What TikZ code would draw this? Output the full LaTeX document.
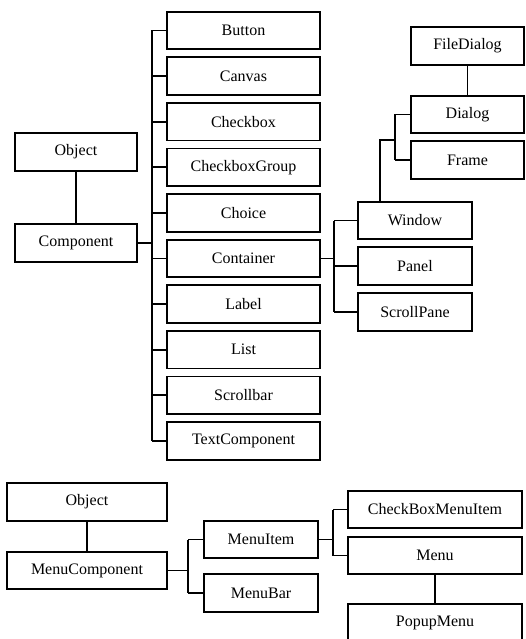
\documentclass[tikz,border=0pt]{standalone}
\usepackage{fontspec}
\setmainfont{Liberation Serif}
\usetikzlibrary{calc}
\begin{document}
\begin{tikzpicture}[x=1pt,y=-1pt,
  line width=1.8pt,
  cls/.style={draw, rectangle, inner sep=0pt, minimum height=37.5pt,
    font=\rmfamily\fontsize{16}{19}\selectfont},
  colbox/.style={cls, minimum width=153pt},
  wide/.style={cls, minimum width=114pt},
  conn/.style={draw, line width=1.8pt}]
\useasboundingbox (0,0) rectangle (525,639);
% ---- top hierarchy ----
\node[cls, minimum width=122pt] (obj1) at (76,152) {Object};
\node[cls, minimum width=122pt] (comp) at (76,243) {Component};
\foreach \name/\txt [count=\i from 0] in {button/Button,canvas/Canvas,checkbox/Checkbox,cbgroup/CheckboxGroup,choice/Choice,container/Container,label/Label,list/List,scrollbar/Scrollbar,textcomp/TextComponent}{
  \node[colbox] (\name) at (243.5,{30.5+\i*45.6}) {\txt};
}
\coordinate (b1) at (152,0);
\node[wide] (window) at (415,220.5) {Window};
\node[wide] (panel) at (415,266) {Panel};
\node[wide] (scrollpane) at (415,312) {ScrollPane};
\coordinate (b2) at (334,0);
\node[cls, minimum width=113pt] (filedialog) at (467.5,46) {FileDialog};
\node[cls, minimum width=113pt] (dialog) at (467.5,114.5) {Dialog};
\node[cls, minimum width=113pt] (frame) at (467.5,160) {Frame};
\coordinate (b3) at (395,0);
% connectors top
\draw[conn] (obj1) -- (comp);
\draw[conn] (comp.east) -- (comp.east -| b1);
\draw[conn] (button.west -| b1) -- (textcomp.west -| b1);
\foreach \name in {button,canvas,checkbox,cbgroup,choice,container,label,list,scrollbar,textcomp}{
  \draw[conn] (\name.west) -- (\name.west -| b1);
}
\draw[conn] (container.east) -- (container.east -| b2);
\draw[conn] (window.west -| b2) -- (scrollpane.west -| b2);
\foreach \name in {window,panel,scrollpane}{
  \draw[conn] (\name.west) -- (\name.west -| b2);
}
\coordinate (wl) at ($(window.north west)!0.2!(window.north east)$);
\draw[conn] (wl) |- (frame.north -| b3);
\draw[conn] (dialog.west -| b3) -- (frame.west -| b3);
\draw[conn] (dialog.west) -- (dialog.west -| b3);
\draw[conn] (frame.west) -- (frame.west -| b3);
\draw[conn] (filedialog) -- (dialog);
% ---- bottom hierarchy ----
\node[cls, minimum width=160pt] (obj2) at (87,502) {Object};
\node[cls, minimum width=160pt] (menucomp) at (87,570.5) {MenuComponent};
\node[wide] (menuitem) at (261,539.5) {MenuItem};
\node[wide] (menubar) at (261,593) {MenuBar};
\coordinate (b4) at (188,0);
\node[cls, minimum width=174pt] (cbmi) at (435,509.5) {CheckBoxMenuItem};
\node[cls, minimum width=174pt] (menu) at (435,555.5) {Menu};
\node[cls, minimum width=174pt] (popup) at (435,622.5) {PopupMenu};
\coordinate (b5) at (333,0);
\draw[conn] (obj2) -- (menucomp);
\draw[conn] (menucomp.east) -- (menucomp.east -| b4);
\draw[conn] (menuitem.west -| b4) -- (menubar.west -| b4);
\draw[conn] (menuitem.west) -- (menuitem.west -| b4);
\draw[conn] (menubar.west) -- (menubar.west -| b4);
\draw[conn] (menuitem.east) -- (menuitem.east -| b5);
\draw[conn] (cbmi.west -| b5) -- (menu.west -| b5);
\draw[conn] (cbmi.west) -- (cbmi.west -| b5);
\draw[conn] (menu.west) -- (menu.west -| b5);
\draw[conn] (menu) -- (popup);
\end{tikzpicture}
\end{document}
